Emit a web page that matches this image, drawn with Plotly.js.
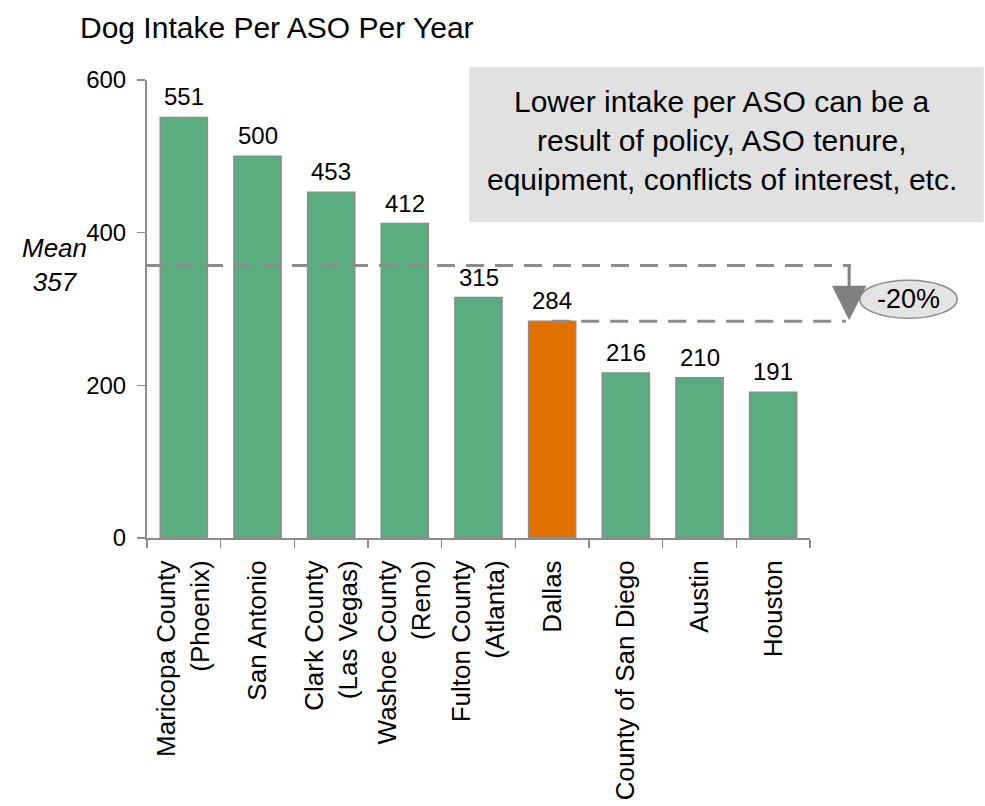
<!DOCTYPE html>
<html>
<head>
<meta charset="utf-8">
<script src="https://cdn.plot.ly/plotly-3.0.1.min.js"></script>
<style>
  html, body { margin: 0; padding: 0; background: #ffffff; }
  #chart { width: 985px; height: 806px; }
</style>
</head>
<body>
<div id="chart"></div>
<script>
// ---- Data ----
const categories = [
  "Maricopa County<br>(Phoenix)",
  "San Antonio",
  "Clark County<br>(Las Vegas)",
  "Washoe County<br>(Reno)",
  "Fulton County<br>(Atlanta)",
  "Dallas",
  "County of San Diego",
  "Austin",
  "Houston"
];
const intakePerASO = [551, 500, 453, 412, 315, 284, 216, 210, 191];
const highlightCategory = "Dallas";
const meanValue = 357;
const yTickValues = [0, 200, 400, 600];
const chartTitle = "Dog Intake Per ASO Per Year";
const noteLines = [
  "Lower intake per ASO can be a",
  "result of policy, ASO tenure,",
  "equipment, conflicts of interest, etc."
];

// ---- Styling ----
const FONT = "Liberation Sans, Arial, Helvetica, sans-serif";
const GREEN = "#5BAD80";
const ORANGE = "#E07000";
const GREY = "#8C8C8C";

const highlightIndex = categories.indexOf(highlightCategory);
const highlightValue = intakePerASO[highlightIndex];
const pctDiff = Math.round((highlightValue - meanValue) / meanValue * 100);

const barColors = categories.map(c => c === highlightCategory ? ORANGE : GREEN);

const trace = {
  type: "bar",
  x: categories,
  y: intakePerASO,
  marker: { color: barColors, line: { color: GREY, width: 1.5 } },
  cliponaxis: false,
  hoverinfo: "x+y"
};

const n = categories.length;
// paper x positions (plot area 147..810 px)
const hlPaperX = (highlightIndex + 0.5) / n;
const lineEndPaper = 1.062;

const shapes = [
  // note box
  { type: "rect", xref: "paper", yref: "paper", x0: 0.486, x1: 1.262, y0: 0.690, y1: 1.028,
    fillcolor: "#E1E1E1", line: { width: 0 }, layer: "below" },
  // mean line
  { type: "line", xref: "paper", yref: "y", x0: 0, x1: lineEndPaper, y0: meanValue, y1: meanValue,
    line: { color: GREY, width: 3, dash: "18px,11px" } },
  // highlight line
  { type: "line", xref: "paper", yref: "y", x0: hlPaperX, x1: lineEndPaper - 0.008, y0: highlightValue, y1: highlightValue,
    line: { color: GREY, width: 3, dash: "18px,11px" } },
  // ellipse
  { type: "circle", xref: "paper", yref: "paper", x0: 1.075, x1: 1.222, y0: 0.480, y1: 0.563,
    fillcolor: "#E4E4E4", line: { color: GREY, width: 1.5 } }
];

const annotations = [];

// bar value labels
categories.forEach((c, i) => {
  annotations.push({
    text: String(intakePerASO[i]), xref: "x", yref: "y", x: c, y: intakePerASO[i],
    xanchor: "center", yanchor: "bottom", yshift: 5, showarrow: false,
    font: { family: FONT, size: 24, color: "#000000" }
  });
});

const noteY = [101, 140, 179];
noteLines.forEach((t, i) => annotations.push({
  text: t, xref: "paper", yref: "paper", x: 0.867, y: (538 - noteY[i]) / 458,
  xanchor: "center", yanchor: "middle", showarrow: false,
  font: { family: FONT, size: 30, color: "#000000" }
}));

annotations.push({
  text: "<i>Mean</i><br><i>" + meanValue + "</i>",
  xref: "paper", yref: "paper", x: -0.140, y: (538 - 264.5) / 458,
  xanchor: "center", yanchor: "middle", showarrow: false,
  font: { family: FONT, size: 26, color: "#000000" }
});

annotations.push({
  text: "", xref: "paper", yref: "y", axref: "pixel", ayref: "y",
  x: lineEndPaper - 0.003, y: highlightValue, ax: 0, ay: meanValue,
  showarrow: true, arrowhead: 2, arrowsize: 2.3, arrowwidth: 3, arrowcolor: "#808080", standoff: 1
});

annotations.push({
  text: pctDiff + "%", xref: "paper", yref: "paper", x: 1.1485, y: 0.5215,
  xanchor: "center", yanchor: "middle", showarrow: false,
  font: { family: FONT, size: 27, color: "#000000" }
});

const layout = {
  width: 985,
  height: 806,
  margin: { l: 147, r: 175, t: 80, b: 268, pad: 0 },
  paper_bgcolor: "#ffffff",
  plot_bgcolor: "#ffffff",
  showlegend: false,
  bargap: 0.36,
  font: { family: FONT, color: "#000000" },
  title: {
    text: chartTitle,
    font: { family: FONT, size: 30, color: "#000000" },
    xref: "container", yref: "container",
    x: 80 / 985, xanchor: "left",
    y: 1 - 27 / 806, yanchor: "middle"
  },
  xaxis: {
    type: "category",
    range: [-0.5, n - 0.5],
    tickangle: -90,
    tickfont: { family: FONT, size: 26, color: "#000000" },
    ticks: "outside",
    tickson: "boundaries",
    ticklen: 8,
    tickwidth: 1.5,
    tickcolor: GREY,
    showline: true,
    linecolor: GREY,
    linewidth: 2,
    showgrid: false,
    zeroline: false,
    ticklabelstandoff: 10,
    fixedrange: true
  },
  yaxis: {
    range: [0, 600],
    tickvals: yTickValues,
    ticktext: yTickValues.map(String),
    tickfont: { family: FONT, size: 24, color: "#000000" },
    ticks: "outside",
    ticklen: 8,
    tickwidth: 1.5,
    tickcolor: GREY,
    showline: true,
    linecolor: GREY,
    linewidth: 2,
    showgrid: false,
    zeroline: false,
    ticklabelstandoff: 6,
    fixedrange: true
  },
  shapes: shapes,
  annotations: annotations
};

Plotly.newPlot("chart", [trace], layout, { displayModeBar: false, staticPlot: true });
</script>
</body>
</html>
